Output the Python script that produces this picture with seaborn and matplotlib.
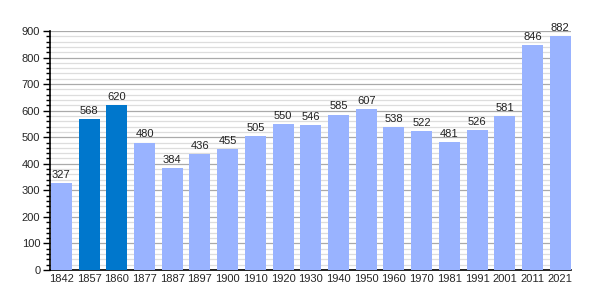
import matplotlib
matplotlib.use("Agg")
import matplotlib.pyplot as plt
import seaborn as sns
import pandas as pd
import numpy as np
from matplotlib.ticker import MultipleLocator

years = ["1842", "1857", "1860", "1877", "1887", "1897", "1900", "1910", "1920", "1930",
         "1940", "1950", "1960", "1970", "1981", "1991", "2001", "2011", "2021"]
population = [327, 568, 620, 480, 384, 436, 455, 505, 550, 546,
              585, 607, 538, 522, 481, 526, 581, 846, 882]
highlight = [False, True, True, False, False, False, False, False, False, False,
             False, False, False, False, False, False, False, False, False]

light = "#99b3ff"
dark = "#0077cc"

df = pd.DataFrame({"year": years, "pop": population, "hl": highlight})

sns.set_theme(style="white")
plt.rcParams['font.family'] = ['Liberation Sans', 'DejaVu Sans']

fig = plt.figure(figsize=(6, 3), dpi=100)
ax = fig.add_axes([50/600, 30/300, (571-50)/600, (270-31)/300])

palette = [dark if h else light for h in highlight]
sns.barplot(data=df, x="year", y="pop", hue="year", palette=palette, legend=False,
            width=0.76, saturation=1, linewidth=0, edgecolor="none", ax=ax, zorder=3)

for i, v in enumerate(population):
    ax.text(i, v + 12, str(v), ha="center", va="bottom", fontsize=8, color="#222222", zorder=4)

ax.set_ylim(0, 900)
ax.set_xlim(-0.38 - 0.03, len(years) - 1 + 0.38 + 0.01)
ax.yaxis.set_major_locator(MultipleLocator(100))
ax.yaxis.set_minor_locator(MultipleLocator(20))
ax.grid(which="major", axis="y", color="#aaaaaa", linewidth=0.9, zorder=0)
ax.grid(which="minor", axis="y", color="#dddddd", linewidth=0.9, zorder=0)
ax.set_axisbelow(True)

for s in ["top", "right"]:
    ax.spines[s].set_visible(False)
for s in ["left", "bottom"]:
    ax.spines[s].set_color("black")
    ax.spines[s].set_linewidth(1.2)

ax.tick_params(axis="y", which="major", length=5, width=1, color="black", labelsize=8, pad=2, left=True)
ax.tick_params(axis="y", which="minor", length=3, width=1, color="black", left=True)
ax.tick_params(axis="x", length=0, labelsize=8, pad=3)
ax.set_xlabel("")
ax.set_ylabel("")

fig.savefig("out.png", dpi=100)
